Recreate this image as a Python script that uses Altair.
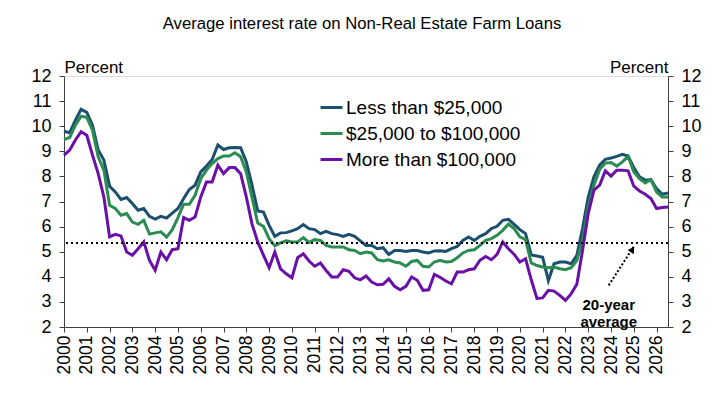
import altair as alt
import pandas as pd

# ---------------- data (quarterly, starting 2000 Q1) ----------------
start_year = 2000
quarter_step = 0.25

less_25k = [
    9.80, 9.74, 10.24, 10.67, 10.55, 10.04, 9.05, 8.65, 7.61, 7.38,
    7.08, 7.16, 6.92, 6.65, 6.72, 6.41, 6.30, 6.41, 6.34, 6.54,
    6.72, 7.12, 7.48, 7.65, 8.18, 8.41, 8.67, 9.25, 9.07, 9.14,
    9.15, 9.14, 8.58, 7.65, 6.62, 6.58, 6.05, 5.61, 5.75, 5.76,
    5.83, 5.92, 6.08, 5.92, 5.88, 5.72, 5.81, 5.72, 5.68, 5.61,
    5.69, 5.61, 5.43, 5.25, 5.25, 5.12, 5.16, 4.89, 5.05, 5.05,
    5.01, 5.05, 5.05, 4.99, 4.95, 5.03, 5.04, 5.01, 5.12, 5.21,
    5.45, 5.59, 5.45, 5.61, 5.72, 5.92, 6.01, 6.25, 6.29, 6.09,
    5.88, 5.72, 4.87, 4.83, 4.78, 3.85, 4.52, 4.59, 4.59, 4.52,
    4.85, 5.92, 7.18, 7.98, 8.45, 8.68, 8.73, 8.80, 8.88, 8.81,
    8.35, 7.98, 7.85, 7.87, 7.51, 7.29, 7.34,
]

from_25k_to_100k = [
    9.47, 9.55, 10.04, 10.40, 10.35, 9.84, 8.78, 8.25, 6.85, 6.72,
    6.45, 6.52, 6.18, 6.09, 6.25, 5.70, 5.75, 5.79, 5.58, 5.88,
    6.36, 6.89, 6.89, 7.25, 7.91, 8.25, 8.51, 8.71, 8.81, 8.81,
    8.94, 8.78, 8.18, 7.15, 6.14, 6.01, 5.52, 5.23, 5.35, 5.43,
    5.39, 5.39, 5.56, 5.37, 5.48, 5.45, 5.25, 5.19, 5.19, 5.19,
    5.08, 5.05, 4.92, 4.99, 4.95, 4.68, 4.63, 4.68, 4.59, 4.55,
    4.42, 4.61, 4.65, 4.42, 4.39, 4.59, 4.66, 4.59, 4.61, 4.76,
    4.95, 5.05, 5.08, 5.25, 5.45, 5.52, 5.65, 5.85, 6.10, 5.92,
    5.59, 5.48, 4.55, 4.45, 4.39, 4.36, 4.39, 4.32, 4.28, 4.36,
    4.65, 5.45, 6.78, 7.65, 8.27, 8.53, 8.55, 8.41, 8.58, 8.80,
    8.18, 7.91, 7.74, 7.87, 7.38, 7.18, 7.18,
]

more_100k = [
    8.85, 9.05, 9.45, 9.78, 9.64, 8.85, 8.11, 7.18, 5.59, 5.69,
    5.63, 4.99, 4.86, 5.12, 5.39, 4.65, 4.26, 4.99, 4.68, 5.08,
    5.12, 6.36, 6.25, 6.38, 7.18, 7.78, 7.78, 8.45, 8.11, 8.35,
    8.35, 8.11, 7.18, 6.10, 5.39, 4.86, 4.36, 4.99, 4.32, 4.12,
    3.96, 4.76, 4.92, 4.63, 4.42, 4.55, 4.25, 3.99, 3.99, 4.28,
    4.22, 3.96, 3.88, 4.03, 3.79, 3.68, 3.70, 3.92, 3.62, 3.48,
    3.62, 3.99, 3.86, 3.46, 3.48, 4.10, 3.98, 3.83, 3.72, 4.19,
    4.19, 4.28, 4.32, 4.66, 4.81, 4.68, 4.89, 5.39, 5.12, 4.89,
    4.59, 4.72, 3.88, 3.14, 3.16, 3.46, 3.43, 3.26, 3.06, 3.32,
    3.70, 5.05, 6.52, 7.45, 7.65, 8.22, 8.01, 8.25, 8.25, 8.22,
    7.61, 7.42, 7.29, 7.12, 6.72, 6.76, 6.78,
]

series_names = ["Less than $25,000", "$25,000 to $100,000", "More than $100,000"]
series_colors = ["#1b4f6e", "#2b8c52", "#6a0fa8"]
twenty_year_avg = 5.35
year_ticks = list(range(2000, 2027))
rate_ticks = list(range(2, 13))

annotation_lines = ["20-year", "average"]
annotation_year = 2023.9
annotation_rates = [2.88, 2.2]
arrow_start = (2023.9, 3.66)
arrow_end = (2025.0, 5.21)

# ---------------- tables ----------------
rows = []
for order, (name, vals) in enumerate(zip(series_names, [less_25k, from_25k_to_100k, more_100k])):
    for i, v in enumerate(vals):
        rows.append({"t": start_year + i * quarter_step, "rate": v, "series": name, "o": order})
df = pd.DataFrame(rows)

avg_df = pd.DataFrame({"t": [2000], "avg": [twenty_year_avg]})
ann_df = pd.DataFrame({"t": [annotation_year] * 2, "rate": annotation_rates, "label": annotation_lines})
arrow_df = pd.DataFrame({"t": [arrow_start[0]], "rate": [arrow_start[1]],
                         "t2": [arrow_end[0]], "rate2": [arrow_end[1]]})
head_df = pd.DataFrame({"t": [arrow_end[0] - 0.06], "rate": [arrow_end[1] - 0.12]})

FONT = "Liberation Sans"
AXIS_COLOR = "#404040"

x_scale = alt.Scale(domain=[2000, 2026.5], nice=False, zero=False)
y_scale = alt.Scale(domain=[2, 12], nice=False, zero=False)

x_axis = alt.Axis(values=year_ticks, format="d", labelAngle=-90, title=None, grid=False,
                  tickSize=5, labelFontSize=17.5, labelPadding=3, labelFont=FONT,
                  labelColor="black", domainColor=AXIS_COLOR, tickColor=AXIS_COLOR,
                  labelOverlap=False, labelFlush=False)


def X(field="t"):
    return alt.X(f"{field}:Q", scale=x_scale, axis=x_axis)


left_axis = alt.Axis(values=rate_ticks, orient="left", title="Percent", titleAngle=0,
                     titleAlign="left", titleX=0, titleY=-4, titleBaseline="alphabetic",
                     titleFontSize=17, titleFontWeight="normal", titleFont=FONT, titleColor="black",
                     labelFontSize=18, labelFont=FONT, labelColor="black", tickSize=5,
                     labelPadding=8, grid=False, domainColor=AXIS_COLOR, tickColor=AXIS_COLOR)

right_axis = alt.Axis(values=rate_ticks, orient="right", title="Percent", titleAngle=0,
                      titleAlign="right", titleX=0, titleY=-4, titleBaseline="alphabetic",
                      titleFontSize=17, titleFontWeight="normal", titleFont=FONT, titleColor="black",
                      labelFontSize=18, labelFont=FONT, labelColor="black", tickSize=5,
                      labelPadding=8, grid=False, domainColor=AXIS_COLOR, tickColor=AXIS_COLOR)

lines = alt.Chart(df).mark_line(strokeWidth=3).encode(
    x=X(),
    y=alt.Y("rate:Q", scale=y_scale, axis=left_axis),
    color=alt.Color("series:N",
                    scale=alt.Scale(domain=series_names, range=series_colors),
                    legend=alt.Legend(title=None, orient="none", legendX=255, legendY=19,
                                      symbolType="stroke", symbolStrokeWidth=3, symbolSize=484,
                                      labelFontSize=19, labelFont=FONT, labelColor="black",
                                      labelLimit=400, rowPadding=3, labelOffset=2)),
    order="o:Q",
)

avg_rule = alt.Chart(avg_df).mark_rule(color="black", strokeWidth=2, strokeDash=[2, 3]).encode(
    y=alt.Y("avg:Q", scale=y_scale, axis=right_axis),
)

ann_text = alt.Chart(ann_df).mark_text(fontSize=15, fontWeight="bold", font=FONT,
                                       color="black", align="center", baseline="middle").encode(
    x=X(),
    y=alt.Y("rate:Q", scale=y_scale, axis=None),
    text="label:N",
)

arrow_line = alt.Chart(arrow_df).mark_rule(color="black", strokeWidth=2, strokeDash=[2, 2]).encode(
    x=X(),
    y=alt.Y("rate:Q", scale=y_scale, axis=None),
    x2="t2:Q",
    y2="rate2:Q",
)

arrow_head = alt.Chart(head_df).mark_point(shape="triangle-up", filled=True, color="black",
                                           size=55, angle=33, opacity=1).encode(
    x=X(),
    y=alt.Y("rate:Q", scale=y_scale, axis=None),
)

chart = alt.layer(lines, avg_rule, ann_text, arrow_line, arrow_head).resolve_axis(
    y="independent"
).properties(
    width=604,
    height=251,
    padding={"left": 64, "top": 76, "right": 57, "bottom": 80},
    autosize=alt.AutoSizeParams(type="none"),
    title=alt.TitleParams("Average interest rate on Non-Real Estate Farm Loans",
                          fontSize=16.7, fontWeight="normal", font=FONT, color="black",
                          anchor="middle", offset=25, dx=-4),
).configure_view(stroke=AXIS_COLOR, strokeWidth=1).configure(background="white")

chart.save("out.html", embed_options={"renderer": "svg", "actions": False})
